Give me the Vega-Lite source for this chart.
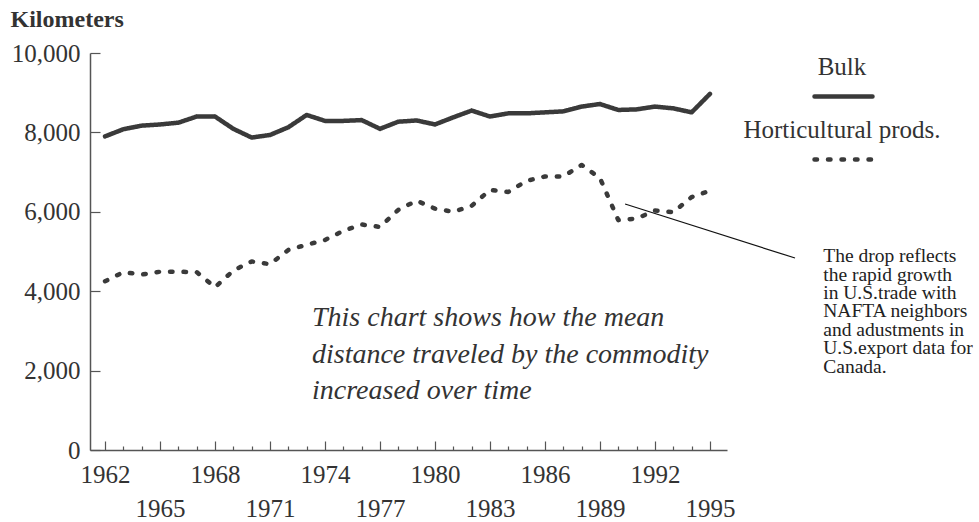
{
  "$schema": "https://vega.github.io/schema/vega-lite/v6.json",
  "width": 637,
  "height": 397,
  "autosize": "none",
  "padding": {"left": 90, "top": 53, "right": 252, "bottom": 72},
  "background": "white",
  "config": {"view": {"stroke": null}, "font": "Liberation Serif"},
  "resolve": {"axis": {"x": "independent"}},
  "datasets": {
    "series": [
      {"year": 1962, "km": 7900, "series": "Bulk"},
      {"year": 1963, "km": 8080, "series": "Bulk"},
      {"year": 1964, "km": 8170, "series": "Bulk"},
      {"year": 1965, "km": 8200, "series": "Bulk"},
      {"year": 1966, "km": 8245, "series": "Bulk"},
      {"year": 1967, "km": 8400, "series": "Bulk"},
      {"year": 1968, "km": 8400, "series": "Bulk"},
      {"year": 1969, "km": 8090, "series": "Bulk"},
      {"year": 1970, "km": 7870, "series": "Bulk"},
      {"year": 1971, "km": 7935, "series": "Bulk"},
      {"year": 1972, "km": 8130, "series": "Bulk"},
      {"year": 1973, "km": 8440, "series": "Bulk"},
      {"year": 1974, "km": 8290, "series": "Bulk"},
      {"year": 1975, "km": 8290, "series": "Bulk"},
      {"year": 1976, "km": 8310, "series": "Bulk"},
      {"year": 1977, "km": 8090, "series": "Bulk"},
      {"year": 1978, "km": 8270, "series": "Bulk"},
      {"year": 1979, "km": 8300, "series": "Bulk"},
      {"year": 1980, "km": 8200, "series": "Bulk"},
      {"year": 1981, "km": 8380, "series": "Bulk"},
      {"year": 1982, "km": 8550, "series": "Bulk"},
      {"year": 1983, "km": 8400, "series": "Bulk"},
      {"year": 1984, "km": 8480, "series": "Bulk"},
      {"year": 1985, "km": 8480, "series": "Bulk"},
      {"year": 1986, "km": 8505, "series": "Bulk"},
      {"year": 1987, "km": 8530, "series": "Bulk"},
      {"year": 1988, "km": 8650, "series": "Bulk"},
      {"year": 1989, "km": 8715, "series": "Bulk"},
      {"year": 1990, "km": 8565, "series": "Bulk"},
      {"year": 1991, "km": 8580, "series": "Bulk"},
      {"year": 1992, "km": 8650, "series": "Bulk"},
      {"year": 1993, "km": 8605, "series": "Bulk"},
      {"year": 1994, "km": 8505, "series": "Bulk"},
      {"year": 1995, "km": 8970, "series": "Bulk"},
      {"year": 1962, "km": 4250, "series": "Horticultural prods."},
      {"year": 1963, "km": 4480, "series": "Horticultural prods."},
      {"year": 1964, "km": 4420, "series": "Horticultural prods."},
      {"year": 1965, "km": 4490, "series": "Horticultural prods."},
      {"year": 1966, "km": 4490, "series": "Horticultural prods."},
      {"year": 1967, "km": 4480, "series": "Horticultural prods."},
      {"year": 1968, "km": 4100, "series": "Horticultural prods."},
      {"year": 1969, "km": 4520, "series": "Horticultural prods."},
      {"year": 1970, "km": 4750, "series": "Horticultural prods."},
      {"year": 1971, "km": 4680, "series": "Horticultural prods."},
      {"year": 1972, "km": 5040, "series": "Horticultural prods."},
      {"year": 1973, "km": 5170, "series": "Horticultural prods."},
      {"year": 1974, "km": 5290, "series": "Horticultural prods."},
      {"year": 1975, "km": 5520, "series": "Horticultural prods."},
      {"year": 1976, "km": 5680, "series": "Horticultural prods."},
      {"year": 1977, "km": 5620, "series": "Horticultural prods."},
      {"year": 1978, "km": 6050, "series": "Horticultural prods."},
      {"year": 1979, "km": 6280, "series": "Horticultural prods."},
      {"year": 1980, "km": 6080, "series": "Horticultural prods."},
      {"year": 1981, "km": 6000, "series": "Horticultural prods."},
      {"year": 1982, "km": 6150, "series": "Horticultural prods."},
      {"year": 1983, "km": 6550, "series": "Horticultural prods."},
      {"year": 1984, "km": 6500, "series": "Horticultural prods."},
      {"year": 1985, "km": 6780, "series": "Horticultural prods."},
      {"year": 1986, "km": 6890, "series": "Horticultural prods."},
      {"year": 1987, "km": 6890, "series": "Horticultural prods."},
      {"year": 1988, "km": 7180, "series": "Horticultural prods."},
      {"year": 1989, "km": 6850, "series": "Horticultural prods."},
      {"year": 1990, "km": 5790, "series": "Horticultural prods."},
      {"year": 1991, "km": 5830, "series": "Horticultural prods."},
      {"year": 1992, "km": 6030, "series": "Horticultural prods."},
      {"year": 1993, "km": 5990, "series": "Horticultural prods."},
      {"year": 1994, "km": 6370, "series": "Horticultural prods."},
      {"year": 1995, "km": 6530, "series": "Horticultural prods."}
    ],
    "pointer": [
      {"year": 1990.37, "km": 6196, "year2": 1999.64, "km2": 4836}
    ],
    "notes": [
      {"year": 1973.29, "km": 3123, "note": "This chart shows how the mean\ndistance traveled by the commodity\nincreased over time", "kind": "main"},
      {"year": 2001.18, "km": 4728, "note": "The drop reflects\nthe rapid growth\nin U.S.trade with\nNAFTA neighbors\nand adustments in\nU.S.export data for\nCanada.", "kind": "side"}
    ]
  },
  "layer": [
    {
      "data": {"name": "series"},
      "mark": {"type": "line", "color": "#3a3a3a", "strokeWidth": 4.5, "strokeCap": "round", "strokeJoin": "round"},
      "encoding": {
        "x": {
          "field": "year", "type": "quantitative",
          "scale": {"domain": [1961.18, 1995.93], "nice": false, "zero": false},
          "axis": {
            "title": null,
            "grid": false,
            "orient": "bottom",
            "values": [1962,1963,1964,1965,1966,1967,1968,1969,1970,1971,1972,1973,1974,1975,1976,1977,1978,1979,1980,1981,1982,1983,1984,1985,1986,1987,1988,1989,1990,1991,1992,1993,1994,1995],
            "labels": false,
            "tickSize": {"condition": {"test": "datum.value % 3 == 0", "value": -9}, "value": -4},
            "tickColor": "#555555",
            "tickWidth": 1.2,
            "domainColor": "#555555",
            "domainWidth": 1.5
          }
        },
        "y": {
          "field": "km", "type": "quantitative",
          "scale": {"domain": [0, 10000], "nice": false},
          "axis": {
            "title": "Kilometers",
            "titleAngle": 0,
            "titleAlign": "left",
            "titleBaseline": "alphabetic",
            "titleX": -80,
            "titleY": -27,
            "titleFont": "Liberation Serif",
            "titleFontSize": 24,
            "titleFontWeight": "bold",
            "titleColor": "#333333",
            "grid": false,
            "values": [0,1000,2000,3000,4000,5000,6000,7000,8000,9000,10000],
            "labelExpr": "datum.value % 2000 == 0 ? format(datum.value, ',') : ''",
            "labelOverlap": false,
            "labelBound": false,
            "labelFlush": false,
            "labelFont": "Liberation Serif",
            "labelFontSize": 25,
            "labelColor": "#333333",
            "labelPadding": 20,
            "tickSize": {"condition": {"test": "datum.value % 2000 == 0", "value": -10}, "value": -4},
            "tickColor": "#555555",
            "tickWidth": 1.2,
            "domainColor": "#555555",
            "domainWidth": 1.5
          }
        },
        "strokeDash": {
          "field": "series", "type": "nominal",
          "scale": {"domain": ["Bulk", "Horticultural prods."], "range": [[1, 0], [2.5, 11]]},
          "legend": {
            "title": null,
            "orient": "none",
            "legendX": 722,
            "legendY": 12,
            "padding": 0,
            "symbolType": "stroke",
            "symbolSize": 3364,
            "symbolStrokeWidth": 4.5,
            "symbolStrokeColor": "#3a3a3a",
            "labelFont": "Liberation Serif",
            "labelFontSize": 25,
            "labelColor": "#333333",
            "labelAlign": "center",
            "labelOffset": 0,
            "labelLimit": 400,
            "rowPadding": 11,
            "encode": {
              "labels": {"update": {"dx": {"value": -33}, "dy": {"value": -22}, "baseline": {"value": "alphabetic"}}},
              "symbols": {"update": {"strokeCap": {"value": "round"}}}
            }
          }
        }
      }
    },
    {
      "data": {"name": "pointer"},
      "mark": {"type": "rule", "color": "#111111", "strokeWidth": 1.2},
      "encoding": {
        "x": {
          "field": "year", "type": "quantitative",
          "axis": {
            "title": null,
            "grid": false,
            "orient": "bottom",
            "values": [1962,1965,1968,1971,1974,1977,1980,1983,1986,1989,1992,1995],
            "format": "d",
            "labelExpr": "datum.value % 6 == 3 ? ['', datum.label] : datum.label",
            "labelOverlap": false,
            "labelBound": false,
            "labelFlush": false,
            "labelFont": "Liberation Serif",
            "labelFontSize": 25,
            "labelLineHeight": 34,
            "labelColor": "#333333",
            "labelBaseline": "top",
            "labelPadding": 12,
            "ticks": false,
            "domain": false
          }
        },
        "y": {"field": "km", "type": "quantitative"},
        "x2": {"field": "year2"},
        "y2": {"field": "km2"}
      }
    },
    {
      "data": {"name": "notes"},
      "transform": [{"filter": "datum.kind == 'main'"}],
      "mark": {"type": "text", "align": "left", "baseline": "alphabetic", "font": "Liberation Serif", "fontSize": 28, "fontStyle": "italic", "lineHeight": 36.7, "lineBreak": "\n", "color": "#333333"},
      "encoding": {
        "x": {"field": "year", "type": "quantitative", "axis": null},
        "y": {"field": "km", "type": "quantitative"},
        "text": {"field": "note", "type": "nominal"}
      }
    },
    {
      "data": {"name": "notes"},
      "transform": [{"filter": "datum.kind == 'side'"}],
      "mark": {"type": "text", "align": "left", "baseline": "alphabetic", "font": "Liberation Serif", "fontSize": 19.5, "lineHeight": 18.4, "lineBreak": "\n", "color": "#222222"},
      "encoding": {
        "x": {"field": "year", "type": "quantitative", "axis": null},
        "y": {"field": "km", "type": "quantitative"},
        "text": {"field": "note", "type": "nominal"}
      }
    }
  ]
}
